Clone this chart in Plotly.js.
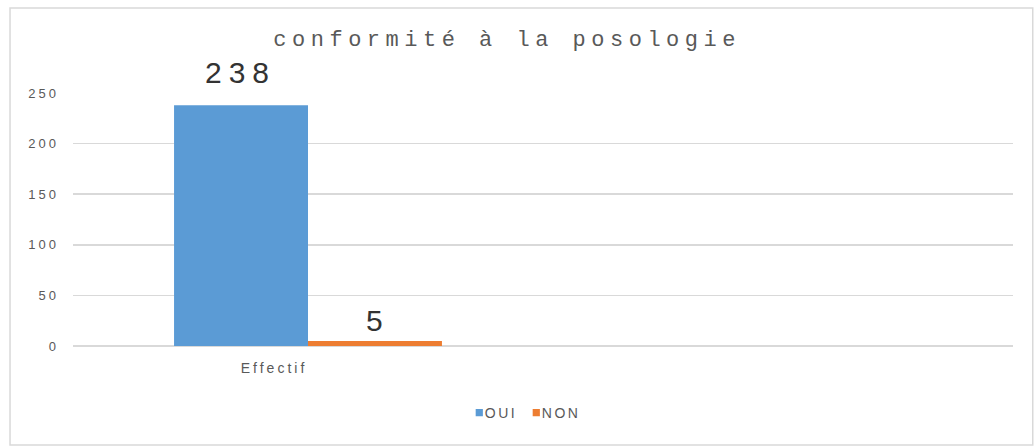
<!DOCTYPE html>
<html>
<head>
<meta charset="utf-8">
<script src="https://cdn.plot.ly/plotly-3.0.1.min.js"></script>
<style>
  html, body { margin: 0; padding: 0; background: #ffffff; }
  #chart { width: 1035px; height: 447px; }
  .gtitle { letter-spacing: 5.5px; }
  .annotation-text { letter-spacing: 7px; }
  .ytick text { letter-spacing: 3px; }
  .xtick text { letter-spacing: 3px; }
  .legendtext { letter-spacing: 2.5px; transform: translate(-29px, 0px) !important; }
  .legend .legendpoints path { transform: translate(5.5px, 0px) scale(0.6) !important; }
</style>
</head>
<body>
<div id="chart"></div>
<script>
// ---- data ----
const categories = ["Effectif"];
const seriesNames = ["OUI", "NON"];
const ouiValues = [238];
const nonValues = [5];
const yTicks = [0, 50, 100, 150, 200, 250];
const titleText = "conformité à la posologie";

const colors = ["#5b9bd5", "#ed7d31"];

const traces = [
  { type: "bar", name: seriesNames[0], x: categories, y: ouiValues,
    marker: { color: colors[0] }, hoverinfo: "none" },
  { type: "bar", name: seriesNames[1], x: categories, y: nonValues,
    marker: { color: colors[1] }, hoverinfo: "none" }
];

const labelFont = { family: "Liberation Sans, Arial, sans-serif", size: 30, color: "#333333" };
const annotations = [
  { x: categories[0], y: ouiValues[0], text: String(ouiValues[0]), xref: "x", yref: "y",
    showarrow: false, yanchor: "bottom", xshift: -68, yshift: 14, font: labelFont },
  { x: categories[0], y: nonValues[0], text: String(nonValues[0]), xref: "x", yref: "y",
    showarrow: false, yanchor: "bottom", xshift: 70, yshift: 2, font: labelFont }
];

const tickFont = { family: "Liberation Sans, Arial, sans-serif", size: 13, color: "#595959" };

const layout = {
  width: 1035, height: 447,
  margin: { l: 73, r: 22, t: 93, b: 101 },
  paper_bgcolor: "#ffffff", plot_bgcolor: "#ffffff",
  title: {
    text: titleText,
    font: { family: "Liberation Mono, Courier New, monospace", size: 22, color: "#595959" },
    xref: "container", yref: "container", x: 0.49, xanchor: "center", y: 0.915, yanchor: "middle"
  },
  barmode: "group",
  bargap: 0.43, bargroupgap: 0,
  xaxis: {
    type: "category", range: [-0.5, 1.5], fixedrange: true,
    showgrid: false, zeroline: false, showline: false, ticks: "",
    tickfont: { family: "Liberation Sans, Arial, sans-serif", size: 14, color: "#595959" },
    ticklabelstandoff: 12, ticklabelshift: -34
  },
  yaxis: {
    range: [0, 250], tickvals: yTicks, fixedrange: true,
    showgrid: true, gridcolor: "#d9d9d9", gridwidth: 1.5,
    zeroline: true, zerolinecolor: "#d9d9d9", zerolinewidth: 1.5,
    showline: false, ticks: "",
    tickfont: tickFont,
    ticklabelstandoff: 13
  },
  showlegend: true,
  legend: {
    orientation: "h", x: 0.487, xanchor: "center", y: -0.265, yanchor: "middle",
    font: { family: "Liberation Sans, Arial, sans-serif", size: 14, color: "#595959" },
    itemwidth: 30, entrywidth: 12, entrywidthmode: "pixels", bgcolor: "rgba(0,0,0,0)"
  },
  annotations: annotations,
  shapes: [
    { type: "rect", xref: "paper", yref: "paper", x0: -0.067, x1: 1.021, y0: -0.391, y1: 1.336,
      line: { color: "#d9d9d9", width: 1.5 }, fillcolor: "rgba(0,0,0,0)", layer: "below" }
  ]
};

Plotly.newPlot("chart", traces, layout, { staticPlot: true, displayModeBar: false });
</script>
</body>
</html>
